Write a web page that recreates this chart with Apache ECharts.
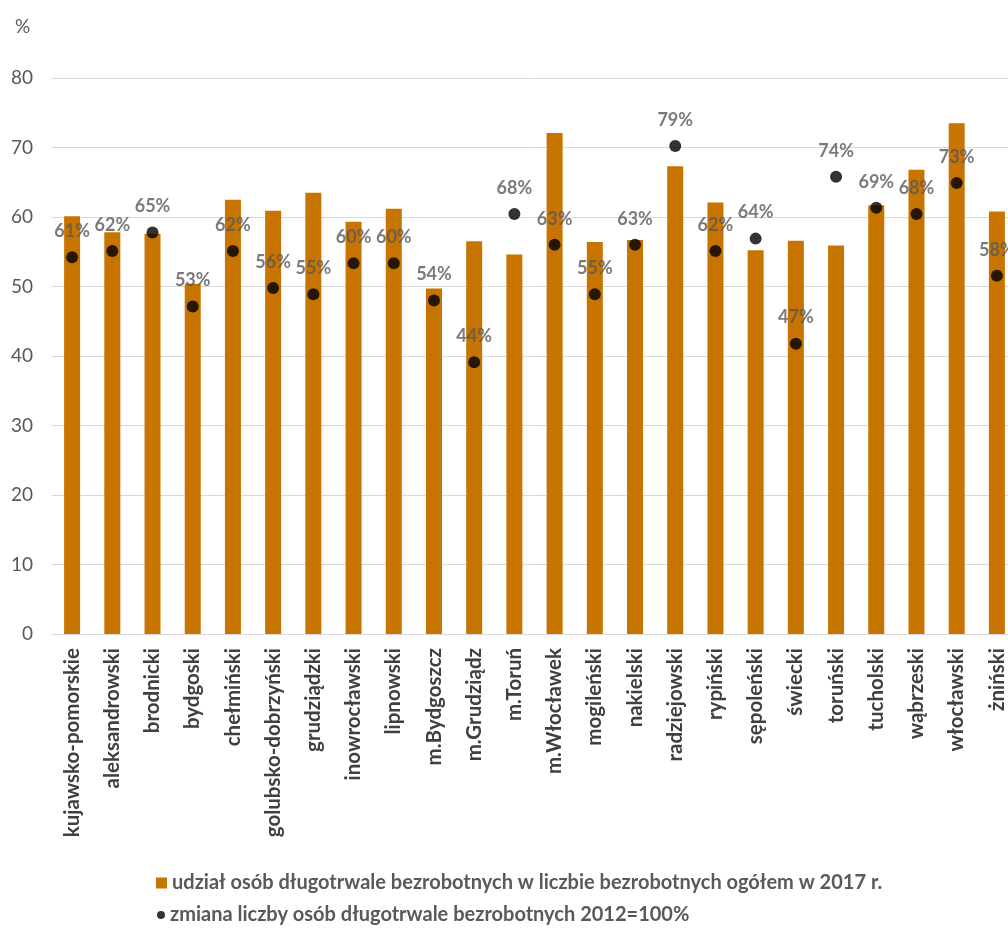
<!DOCTYPE html>
<html>
<head>
<meta charset="utf-8">
<script src="https://cdn.jsdelivr.net/npm/echarts@6/dist/echarts.min.js"></script>
<style>html,body{margin:0;padding:0;background:#fff;overflow:hidden;width:1008px;height:932px;}#c{width:1017px;height:932px;}</style>
</head>
<body>
<div id="c"></div>
<script>
const categories = ['kujawsko-pomorskie','aleksandrowski','brodnicki','bydgoski','chełmiński','golubsko-dobrzyński','grudziądzki','inowrocławski','lipnowski','m.Bydgoszcz','m.Grudziądz','m.Toruń','m.Włocławek','mogileński','nakielski','radziejowski','rypiński','sępoleński','świecki','toruński','tucholski','wąbrzeski','włocławski','żniński'];
const shareLongTerm2017 = [60.1,57.8,57.6,50.4,62.5,60.9,63.5,59.3,61.2,49.7,56.5,54.6,72.1,56.4,56.7,67.3,62.1,55.2,56.6,55.9,61.7,66.8,73.5,60.8];
const change2012 = [61,62,65,53,62,56,55,60,60,54,44,68,63,55,63,79,62,64,47,74,69,68,73,58];
const yTicks = [0,10,20,30,40,50,60,70,80];
const seriesNames = ['udział osób długotrwale bezrobotnych w liczbie bezrobotnych ogółem w 2017 r.','zmiana liczby osób długotrwale bezrobotnych 2012=100%'];

const chart = echarts.init(document.getElementById('c'));
const FONT = 'Lato, "Open Sans", sans-serif';
const legendText = { fontFamily: FONT, fontSize: 20, fontWeight: 'bold', color: '#595959' };
chart.setOption({
  animation: false,
  backgroundColor: '#ffffff',
  title: { text: '%', left: 10, top: 12, textStyle: { fontFamily: FONT, fontSize: 19, fontWeight: 'normal', color: '#595959' } },
  grid: { left: 52, right: 0, top: 78, bottom: 298, containLabel: false },
  legend: [{
    left: 156, top: 873, padding: 0, itemWidth: 11, itemHeight: 11, itemGap: 6,
    textStyle: legendText,
    data: [{ name: seriesNames[0], icon: 'rect' }]
  }, {
    left: 157, top: 905, padding: 0, itemWidth: 8, itemHeight: 8, itemGap: 6,
    textStyle: legendText,
    data: [{ name: seriesNames[1], icon: 'circle' }]
  }],
  xAxis: {
    type: 'category', data: categories,
    axisLine: { lineStyle: { color: '#d9d9d9' } },
    axisTick: { show: false },
    axisLabel: { rotate: 90, interval: 0, margin: 14, fontFamily: FONT, fontSize: 20.5, fontWeight: 'bold', color: '#404040' }
  },
  yAxis: [{
    type: 'value', min: yTicks[0], max: yTicks[yTicks.length - 1], interval: 10,
    axisLine: { show: false }, axisTick: { show: false },
    splitLine: { lineStyle: { color: '#d9d9d9' } },
    axisLabel: { margin: 19, fontFamily: FONT, fontSize: 19, color: '#595959' }
  }, {
    type: 'value', min: 0, max: 90, show: false, splitLine: { show: false }
  }],
  series: [{
    name: seriesNames[0], type: 'bar', data: shareLongTerm2017, barWidth: 16,
    itemStyle: { color: '#c87400' }
  }, {
    name: seriesNames[1], type: 'scatter', yAxisIndex: 1, data: change2012, symbolSize: 12,
    itemStyle: { color: '#000000' },
    label: { show: true, position: 'top', distance: 11, formatter: p => p.value + '%', fontFamily: FONT, fontSize: 18, fontWeight: 'bold', color: '#595959' }
  }]
});
</script>
</body>
</html>
